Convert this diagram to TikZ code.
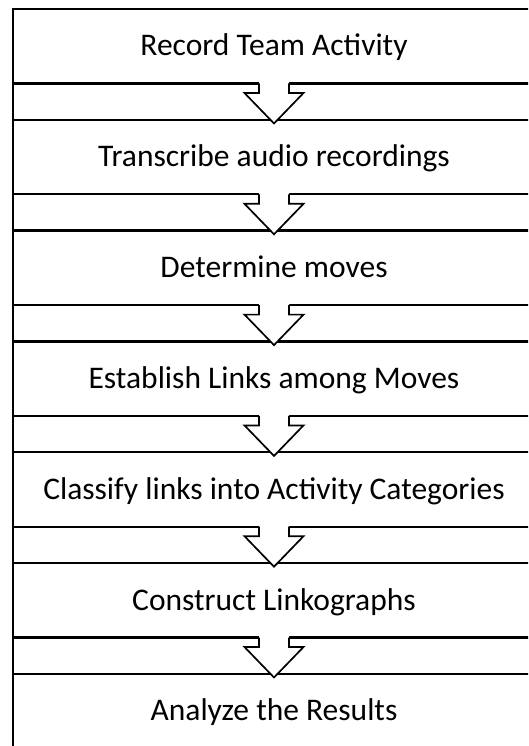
\documentclass[tikz,border=0pt]{standalone}
\usepackage{fontspec}
\setmainfont{Carlito}
\usetikzlibrary{calc}

\tikzset{
  stepbox/.style={draw=black, fill=white, line width=2.3pt, rectangle,
    minimum width=522pt, minimum height=74.5pt, inner sep=0pt, outer sep=0pt,
    text height=19.5pt, text depth=0pt,
    font=\fontsize{31.5}{37}\selectfont},
  striplink/.style={draw=black, line width=1.8pt},
  downarrow/.style={draw=black, line width=1.7pt, line join=miter},
}

\begin{document}
\begin{tikzpicture}[x=1pt, y=-1pt]
  \useasboundingbox (0,0) rectangle (528,746);
  \clip (0,0) rectangle (528,746);

  % process steps, top to bottom
  \foreach \i/\label in {
      1/Record Team Activity,
      2/Transcribe audio recordings,
      3/Determine moves,
      4/Establish Links among Moves,
      5/Classify links into Activity Categories,
      6/Construct Linkographs,
      7/Analyze the Results}{
    \node[stepbox] (s\i) at (274, {46.25 + 110.8*(\i-1)}) {\label};
  }

  % connecting strips with their block arrows
  \foreach \i/\j in {1/2, 2/3, 3/4, 4/5, 5/6, 6/7}{
    \draw[striplink] (s\i.south west) -- (s\j.north west);
    \fill[white]
      ($(s\i.south)+(-15,-2)$) -- ($(s\i.south)+(-15,9.5)$)
      -- ($(s\i.south)+(-29.5,9.5)$) -- ($(s\i.south)+(0,40)$)
      -- ($(s\i.south)+(29.5,9.5)$) -- ($(s\i.south)+(15,9.5)$)
      -- ($(s\i.south)+(15,-2)$) -- cycle;
    \draw[downarrow]
      ($(s\i.south)+(15,0)$) -- ($(s\i.south)+(15,9.5)$)
      -- ($(s\i.south)+(29.5,9.5)$) -- ($(s\i.south)+(0,40)$)
      -- ($(s\i.south)+(-29.5,9.5)$) -- ($(s\i.south)+(-15,9.5)$)
      -- ($(s\i.south)+(-15,0)$);
  }
\end{tikzpicture}
\end{document}
